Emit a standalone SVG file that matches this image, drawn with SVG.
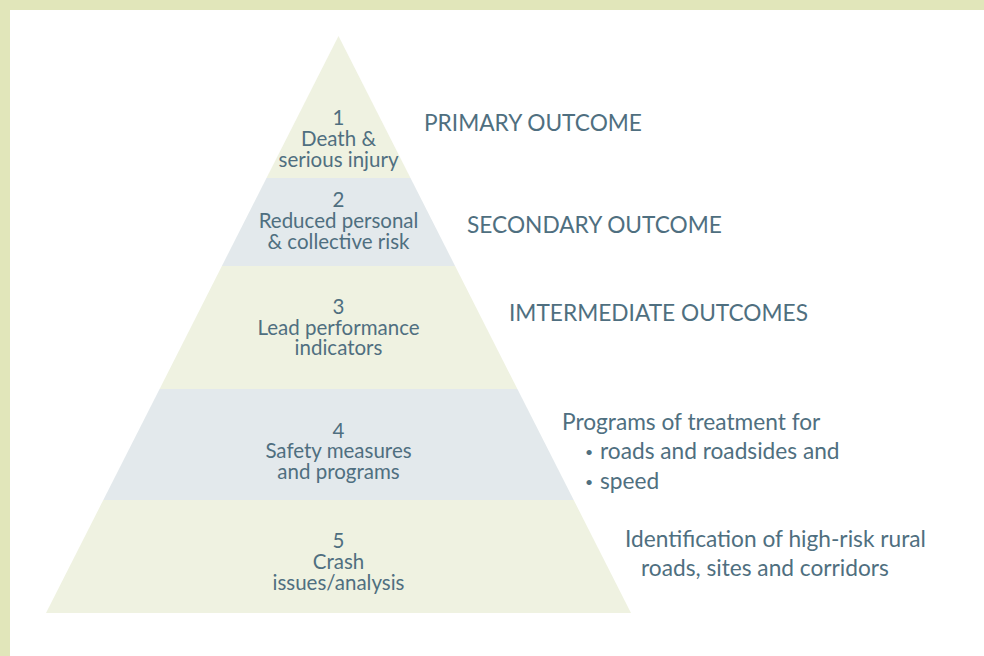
<svg xmlns="http://www.w3.org/2000/svg" width="984" height="656" viewBox="0 0 984 656">
<style>
.g{fill:#eff2e1}
.b{fill:#e3e9ec}
text{font-family:Lato,"Open Sans","Liberation Sans",sans-serif;fill:#4f6f80}
.t{font-size:20.5px;text-anchor:middle}
.l{font-size:22.7px}
.d{font-size:14px}
</style>
<rect x="0" y="0" width="984" height="656" fill="#e1e6ba"/>
<rect x="10" y="10" width="974" height="646" fill="#ffffff"/>
<g id="level1">
<polygon class="g" points="338.5,36 410.5,178 266.5,178"/>
<text class="t" x="338.5" y="125">1</text>
<text class="t" x="338.5" y="146">Death &amp;</text>
<text class="t" x="338.5" y="167">serious injury</text>
</g>
<g id="level2">
<polygon class="b" points="266.5,178 410.5,178 455.1,266 221.9,266"/>
<text class="t" x="338.5" y="207">2</text>
<text class="t" x="338.5" y="228">Reduced personal</text>
<text class="t" x="338.5" y="249">&amp; collective risk</text>
</g>
<g id="level3">
<polygon class="g" points="221.9,266 455.1,266 517.4,389 159.6,389"/>
<text class="t" x="338.5" y="314">3</text>
<text class="t" x="338.5" y="335">Lead performance</text>
<text class="t" x="338.5" y="355">indicators</text>
</g>
<g id="level4">
<polygon class="b" points="159.6,389 517.4,389 573.7,500 103.3,500"/>
<text class="t" x="338.5" y="438">4</text>
<text class="t" x="338.5" y="458">Safety measures</text>
<text class="t" x="338.5" y="479">and programs</text>
</g>
<g id="level5">
<polygon class="g" points="103.3,500 573.7,500 631,613 46,613"/>
<text class="t" x="338.5" y="548">5</text>
<text class="t" x="338.5" y="569">Crash</text>
<text class="t" x="338.5" y="590">issues/analysis</text>
</g>
<g id="label1"><text class="l" x="424" y="131">PRIMARY OUTCOME</text></g>
<g id="label2"><text class="l" x="467" y="233">SECONDARY OUTCOME</text></g>
<g id="label3"><text class="l" x="509" y="321">IMTERMEDIATE OUTCOMES</text></g>
<g id="label4">
<text class="l" x="562" y="430">Programs of treatment for</text>
<text class="d" x="585" y="457">•</text>
<text class="l" x="600" y="459">roads and roadsides and</text>
<text class="d" x="585" y="487">•</text>
<text class="l" x="600" y="489">speed</text>
</g>
<g id="label5">
<text class="l" x="625" y="547">Identification of high-risk rural</text>
<text class="l" x="641" y="576">roads, sites and corridors</text>
</g>
<g id="connectors"></g>
</svg>
